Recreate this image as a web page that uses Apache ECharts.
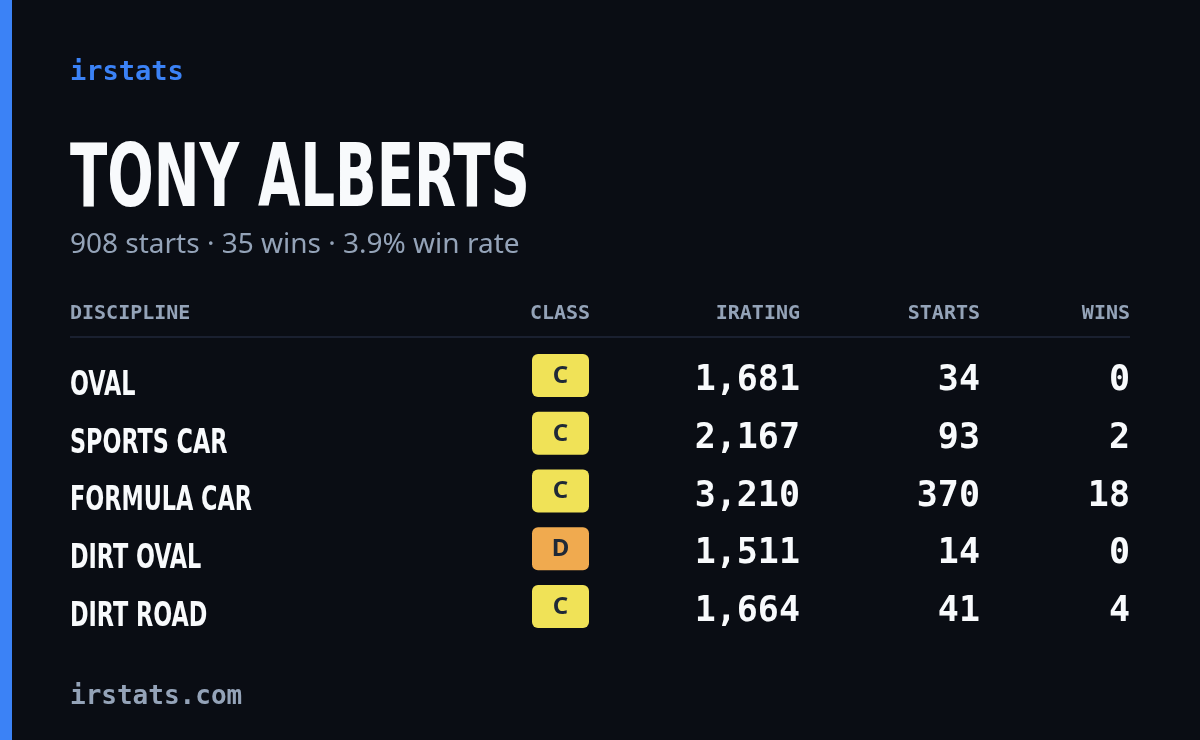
<!DOCTYPE html>
<html><head><meta charset="utf-8">
<script src="https://cdn.jsdelivr.net/npm/echarts@6/dist/echarts.min.js"></script>
<style>html,body{margin:0;padding:0;background:#0a0d14}#c{width:1200px;height:740px}</style>
</head><body><div id="c"></div>
<script>
const disciplines = ["OVAL","SPORTS CAR","FORMULA CAR","DIRT OVAL","DIRT ROAD"];
const classes = ["C","C","C","D","C"];
const iratings = [1681,2167,3210,1511,1664];
const starts = [34,93,370,14,41];
const wins = [0,2,18,0,4];
const headers = ["DISCIPLINE","CLASS","IRATING","STARTS","WINS"];
const driver = "TONY ALBERTS";
const totalStarts = 908, totalWins = 35, winRate = "3.9%";

const cond = '"DejaVu Sans Condensed","Liberation Sans Narrow","Roboto",sans-serif';
const mono = '"DejaVu Sans Mono","Liberation Mono",monospace';
const classColor = {C:"#f0e257", D:"#f0aa4f"};
const fmt = n => n.toLocaleString("en-US");
const rows = disciplines.map((d,i)=>i);

const chart = echarts.init(document.getElementById('c'));
function textSeries(x, arr, align, font, size, weight, scaleX, dy){
  return {type:'custom', silent:true,
    data: rows.map(i=>[x, i]),
    renderItem:(params, api)=>{
      const p = api.coord([api.value(0), api.value(1)]);
      return {type:'text', x:p[0], y:p[1]+(dy||0), scaleX:scaleX||1,
        style:{text:arr[params.dataIndex], fill:'#f8fafc', align:align, verticalAlign:'middle',
          font:weight+' '+size+'px '+font}};
    }};
}
chart.setOption({
  backgroundColor:'#0a0d14',
  animation:false,
  grid:{left:0,right:0,top:351,bottom:100},
  xAxis:{type:'value',min:0,max:1200,show:false},
  yAxis:{type:'category',data:disciplines,inverse:true,show:false},
  graphic:[
    {type:'rect',shape:{x:0,y:0,width:12,height:740},style:{fill:'#3b82f6'}},
    {type:'text',x:70,y:73,style:{text:'irstats',fill:'#3b82f6',font:'bold 27px '+mono,verticalAlign:'middle'}},
    {type:'text',x:70,y:183,scaleX:0.69,style:{text:driver,fill:'#f8fafc',font:'bold 88px '+cond,verticalAlign:'middle'}},
    {type:'text',x:70,y:245,style:{text:`${totalStarts} starts · ${totalWins} wins · ${winRate} win rate`,fill:'#94a3b8',font:'28px "Noto Sans",sans-serif',verticalAlign:'middle'}},
    {type:'text',x:70,y:314,style:{text:headers[0],fill:'#94a3b8',font:'bold 20px '+mono,verticalAlign:'middle'}},
    {type:'text',x:560,y:314,style:{text:headers[1],fill:'#94a3b8',font:'bold 20px '+mono,align:'center',verticalAlign:'middle'}},
    {type:'text',x:800,y:314,style:{text:headers[2],fill:'#94a3b8',font:'bold 20px '+mono,align:'right',verticalAlign:'middle'}},
    {type:'text',x:980,y:314,style:{text:headers[3],fill:'#94a3b8',font:'bold 20px '+mono,align:'right',verticalAlign:'middle'}},
    {type:'text',x:1130,y:314,style:{text:headers[4],fill:'#94a3b8',font:'bold 20px '+mono,align:'right',verticalAlign:'middle'}},
    {type:'rect',shape:{x:70,y:336,width:1060,height:2},style:{fill:'#1a2030'}},
    {type:'text',x:70,y:697,style:{text:'irstats.com',fill:'#94a3b8',font:'bold 26px '+mono,verticalAlign:'middle'}}
  ],
  series:[
    textSeries(70, disciplines, 'left', cond, 34, 'bold', 0.73, 6),
    {type:'custom', silent:true,
      data: rows.map(i=>[560,i]),
      renderItem:(params, api)=>{
        const p = api.coord([api.value(0), api.value(1)]);
        const c = classes[params.dataIndex];
        return {type:'group', children:[
          {type:'rect', shape:{x:p[0]-28,y:p[1]-26,width:57,height:43,r:6}, style:{fill:classColor[c]}},
          {type:'text', x:p[0]+0.5, y:p[1]-4, style:{text:c, fill:'#1f2937', align:'center', verticalAlign:'middle',
            font:'bold 24px "Noto Sans",sans-serif'}}
        ]};
      }},
    textSeries(800, iratings.map(fmt), 'right', mono, 35, 'bold', 1, 1),
    textSeries(980, starts.map(String), 'right', mono, 35, 'bold', 1, 1),
    textSeries(1130, wins.map(String), 'right', mono, 35, 'bold', 1, 1)
  ]
});
</script></body></html>
